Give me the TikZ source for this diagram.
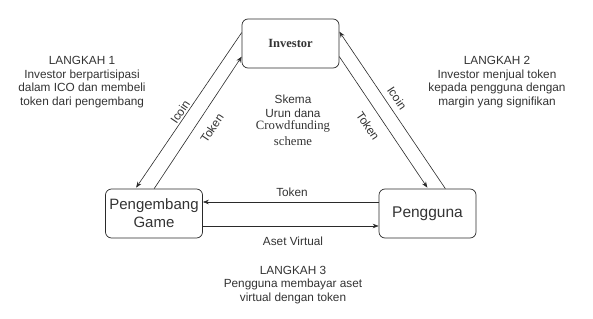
\documentclass[tikz,border=0pt]{standalone}
\usepackage{fontspec}
\setmainfont{Liberation Sans}
\newfontfamily\serifface{Liberation Serif}
\usetikzlibrary{arrows.meta}
\definecolor{txt}{HTML}{333333}
\definecolor{ln}{HTML}{2A2A2A}
\begin{document}
\begin{tikzpicture}[x=1pt,y=-1pt,
  boxst/.style={draw=ln,line width=0.7pt,rounded corners=6pt,minimum width=97pt,minimum height=49pt,inner sep=0pt,align=center,text=txt},
  conn/.style={draw=ln,line width=0.6pt,-{Stealth[length=6pt,width=4.5pt]}},
  lbl/.style={text=txt,font=\fontsize{11.8}{13}\selectfont,inner sep=0pt},
  para/.style={text=txt,font=\fontsize{11.8}{13.5}\selectfont,align=center,inner sep=0pt},
  serifl/.style={text=txt,font=\serifface\fontsize{12.7}{14.5}\selectfont,inner sep=0pt}]
\useasboundingbox (0,0) rectangle (593,318);
\node[boxst,font=\serifface\bfseries\fontsize{12.5}{14}\selectfont] (inv) at (290.5,43.5) {Investor};
\node[boxst,font=\fontsize{15}{18}\selectfont] (peg) at (154,213.5) {Pengembang\\Game};
\node[boxst,font=\fontsize{15.5}{18}\selectfont] (png) at (427.5,213.5) {Pengguna};
% left pair
\draw[conn] ([yshift=-14pt]inv.north west) -- ([xshift=31pt,yshift=1pt]peg.north west);
\draw[conn] ([xshift=49pt]peg.north west) -- ([yshift=-38pt]inv.north west);
% right pair
\draw[conn] ([xshift=-31pt]png.north east) -- ([yshift=-13pt]inv.north east);
\draw[conn] ([yshift=-38pt]inv.north east) -- ([xshift=-49pt,yshift=1pt]png.north east);
% horizontal
\draw[conn] ([yshift=11.5pt]png.west) -- ([yshift=11.5pt]peg.east);
\draw[conn] ([yshift=-12.5pt]peg.east) -- ([yshift=-12.5pt]png.west);
% labels
\node[lbl,rotate=56] (l1) at (180,112) {Icoin};
\node[lbl,rotate=56] (l2) at (212,128) {Token};
\node[lbl,rotate=-56] (l3) at (397,98) {Icoin};
\node[lbl,rotate=-56] (l4) at (368,126) {Token};
\node[lbl] (l5) at (292,192) {Token};
\node[lbl] (l6) at (293,241) {Aset Virtual};
\node[para] (s1) at (82,82) {LANGKAH 1\\Investor berpartisipasi\\dalam ICO dan membeli\\token dari pengembang};
\node[para] (s2) at (497,82) {LANGKAH 2\\Investor menjual token\\kepada pengguna dengan\\margin yang signifikan};
\node[para] (s3) at (293,285) {LANGKAH 3\\Pengguna membayar aset\\virtual dengan token};
\node[para] (sk1) at (293,106.5) {Skema\\Urun dana};
\node[serifl] (sk2) at (293,126) {Crowdfunding};
\node[serifl] (sk3) at (293,141) {scheme};
\end{tikzpicture}
\end{document}
